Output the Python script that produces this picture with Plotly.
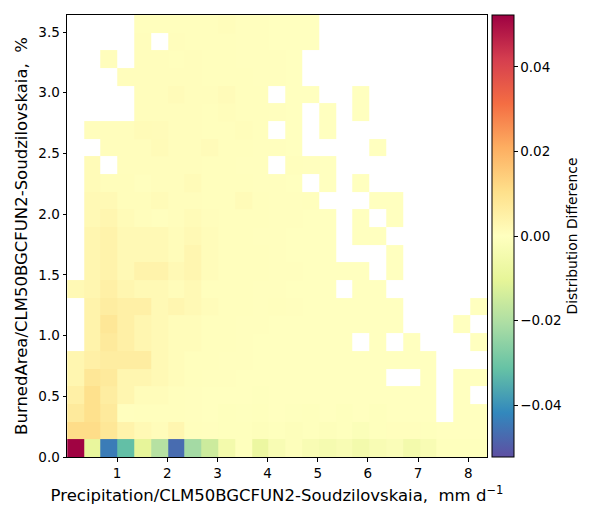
import plotly.graph_objects as go

# Bin centres (precipitation, mm/d) and (burned area, %)
precip_centers = [0.17, 0.50, 0.84, 1.17, 1.51, 1.84, 2.18, 2.51, 2.85, 3.18, 3.52, 3.85,
                  4.19, 4.52, 4.86, 5.19, 5.53, 5.86, 6.20, 6.53, 6.87, 7.20, 7.54, 7.87, 8.21]
burned_centers = [0.073, 0.218, 0.364, 0.510, 0.655, 0.801, 0.946, 1.092, 1.238, 1.383,
                  1.529, 1.674, 1.820, 1.966, 2.111, 2.257, 2.402, 2.548, 2.694, 2.839,
                  2.985, 3.130, 3.276, 3.422, 3.567]

N = None
# Distribution difference, rows from bottom (burned area bin 0) to top
row00 = [0.052, -0.009, -0.044, -0.032, -0.010, -0.019, -0.047, -0.022, -0.015, -0.005, -0.0005, -0.008, -0.003, -0.001, -0.003, -0.004, -0.003, -0.005, -0.003, -0.002, -0.005, -0.003, -0.0005, -0.0005, -0.0005]
row01 = [0.011, 0.011, 0.008, 0.004, 0.002, 0.001, 0.003, 0.0005, 0.0003, -0.0005, -0.0005, -0.001, -0.0005, -0.001, -0.0005, -0.001, -0.0005, -0.0015, -0.0005, 0.0005, 0.0005, -0.0005, 0.0, 0.0, 0.0]
row02 = [0.007, 0.010, 0.007, 0.0003, 0.0005, 0.0005, 0.0005, 0.0003, 0.0, -0.0005, -0.0003, -0.0005, 0.0, -0.0003, -0.0005, 0.0, -0.0005, 0.0, -0.0005, 0.0, 0.0, 0.0, N, 0.0, 0.0]
row03 = [0.005, 0.010, 0.006, 0.003, 0.001, 0.001, 0.0005, 0.0003, 0.0, 0.0, 0.0, -0.0003, 0.0, 0.0, 0.0, 0.0, 0.0, 0.0, 0.0, 0.0, 0.0, 0.0, N, 0.0, N]
row04 = [0.003, 0.008, 0.007, 0.003, 0.003, 0.002, 0.001, 0.0005, 0.0003, 0.0003, 0.0, 0.0, 0.0, 0.0, 0.0, 0.0, 0.0, 0.0, 0.0, N, N, 0.0, N, 0.0, 0.0]
row05 = [0.003, 0.005, 0.006, 0.006, 0.006, 0.002, 0.001, 0.0005, 0.0005, 0.0003, 0.0003, 0.0, 0.0, 0.0, 0.0, 0.0, 0.0, 0.0, 0.0, 0.0, 0.0, 0.0, N, N, N]
row06 = [N, 0.004, 0.007, 0.005, 0.003, 0.002, 0.001, 0.001, 0.0005, 0.0005, 0.0003, 0.0, 0.0, 0.0, 0.0, 0.0, 0.0, N, 0.0, N, 0.0, N, N, N, 0.0]
row07 = [N, 0.004, 0.008, 0.005, 0.003, 0.002, 0.001, 0.001, 0.0005, 0.0005, 0.0003, 0.0003, 0.0, 0.0, 0.0, 0.0, 0.0, 0.0, 0.0, 0.0, N, N, N, 0.0, N]
row08 = [N, 0.004, 0.006, 0.005, 0.005, 0.002, 0.003, 0.002, 0.001, 0.0005, 0.0005, 0.0003, 0.0005, 0.0003, 0.0, 0.0, 0.0, 0.0, 0.0, 0.0, N, N, N, N, 0.0]
row09 = [0.002, 0.003, 0.005, 0.003, 0.002, 0.002, 0.001, 0.002, 0.0005, 0.0005, 0.0005, 0.0003, 0.0003, 0.0, 0.0, 0.0, N, 0.0, 0.0, N, N, N, N, N, N]
row10 = [N, 0.003, 0.004, 0.002, 0.004, 0.004, 0.002, 0.003, 0.001, 0.0005, 0.0005, 0.0005, 0.0003, 0.0003, 0.0, 0.0, 0.0, 0.0, N, 0.0, N, N, N, N, N]
row11 = [N, 0.003, 0.004, 0.002, 0.002, 0.002, 0.001, 0.003, 0.001, 0.0005, 0.0005, 0.0005, 0.0003, 0.0, 0.0, 0.0, N, N, N, 0.0, N, N, N, N, N]
row12 = [N, 0.003, 0.004, 0.002, 0.002, 0.002, 0.001, 0.002, 0.001, 0.0005, 0.0005, 0.0003, 0.0003, 0.0, 0.0, 0.0, N, 0.0, 0.0, N, N, N, N, N, N]
row13 = [N, 0.002, 0.003, 0.0015, 0.0007, 0.0003, 0.0007, 0.0015, 0.0007, 0.0004, 0.0004, 0.0004, 0.0002, 0.0002, 0.0, 0.0, N, 0.0, N, 0.0, N, N, N, N, N]
row14 = [N, 0.002, 0.002, 0.0008, 0.0008, 0.0015, 0.0007, 0.0007, 0.0004, 0.0004, 0.0015, 0.0004, 0.0002, 0.0002, 0.0004, N, N, N, 0.0, 0.0, N, N, N, N, N]
row15 = [N, 0.0015, 0.0008, 0.0008, 0.0003, 0.0007, 0.0007, 0.0015, 0.0004, 0.0004, 0.0004, 0.0002, 0.0002, 0.0, N, 0.0, N, 0.0, N, N, N, N, N, N, N]
row16 = [N, 0.0015, N, 0.0007, 0.0007, 0.0007, 0.0007, 0.0007, 0.0004, 0.0004, 0.0002, 0.0002, N, 0.0004, 0.0002, 0.0, N, N, N, N, N, N, N, N, N]
row17 = [N, N, 0.0007, 0.0007, 0.0007, 0.0015, 0.0007, 0.0007, 0.0012, 0.0004, 0.0004, 0.0002, 0.0002, 0.0, N, N, N, N, 0.0, N, N, N, N, N, N]
row18 = [N, 0.0007, 0.0007, 0.0007, 0.0015, 0.0012, 0.0007, 0.0007, 0.0004, 0.0004, 0.0008, 0.0004, N, 0.0, N, 0.0, N, N, N, N, N, N, N, N, N]
row19 = [N, N, N, N, 0.0007, 0.0007, 0.0007, 0.0007, 0.0004, 0.0008, 0.0004, 0.0004, 0.0002, 0.0, N, 0.0, N, 0.0, N, N, N, N, N, N, N]
row20 = [N, N, N, N, 0.0007, 0.0007, 0.0012, 0.0007, 0.0007, 0.0012, 0.0004, 0.0004, N, 0.0, 0.0, N, N, 0.0, N, N, N, N, N, N, N]
row21 = [N, N, N, 0.0007, 0.0007, 0.0007, 0.0007, 0.0007, 0.0004, 0.0004, 0.0004, 0.0002, 0.0002, 0.0, N, N, N, N, N, N, N, N, N, N, N]
row22 = [N, N, 0.0007, N, 0.0007, 0.0007, 0.0004, 0.0007, 0.0004, 0.0004, 0.0002, 0.0002, 0.0002, 0.0, N, N, N, N, N, N, N, N, N, N, N]
row23 = [N, N, N, N, 0.0007, N, 0.0007, 0.0004, 0.0004, 0.0004, 0.0002, 0.0002, 0.0, 0.0, 0.0, N, N, N, N, N, N, N, N, N, N]
row24 = [N, N, N, N, 0.0004, 0.0004, 0.0004, 0.0004, 0.0004, 0.0008, 0.0002, 0.0002, 0.0, 0.0, 0.0, N, N, N, N, N, N, N, N, N, N]

diff_rows = [row00, row01, row02, row03, row04, row05, row06, row07, row08, row09,
             row10, row11, row12, row13, row14, row15, row16, row17, row18, row19,
             row20, row21, row22, row23, row24]

x_ticks = [1, 2, 3, 4, 5, 6, 7, 8]
y_ticks = [0.0, 0.5, 1.0, 1.5, 2.0, 2.5, 3.0, 3.5]
cb_ticks = [-0.04, -0.02, 0.0, 0.02, 0.04]
cb_labels = ["\u22120.04", "\u22120.02", "0.00", "0.02", "0.04"]

FONT = "DejaVu Sans"
vmax = 0.0523

fig = go.Figure(go.Heatmap(
    x=precip_centers, y=burned_centers, z=diff_rows,
    colorscale="Spectral_r", zmin=-vmax, zmax=vmax,
    hoverongaps=False,
    colorbar=dict(
        thickness=22, thicknessmode="pixels", len=1, lenmode="fraction",
        x=1.012, xanchor="left", y=0.5, yanchor="middle", xpad=0, ypad=0,
        outlinecolor="black", outlinewidth=1,
        ticks="outside", ticklen=3.5, tickwidth=0.8, tickcolor="black",
        tickvals=cb_ticks, ticktext=cb_labels,
        tickfont=dict(family=FONT, size=13.5, color="black"),
        title=dict(text="Distribution Difference", side="right",
                   font=dict(family=FONT, size=13.9, color="black")),
    ),
))

# page body has an 8 px margin, so the figure is 8 px smaller and margins shifted
fig.update_layout(
    width=592, height=517,
    margin=dict(l=59, r=113, t=7, b=68),
    plot_bgcolor="white", paper_bgcolor="white",
    font=dict(family=FONT, size=13.5, color="black"),
    xaxis=dict(
        range=[0, 8.375], tickvals=x_ticks, ticks="outside", ticklen=3.5, tickwidth=0.8,
        tickcolor="black", showline=True, mirror=True, linecolor="black", linewidth=1,
        showgrid=False, zeroline=False, automargin=False,
        title=dict(text="Precipitation/CLM50BGCFUN2-Soudzilovskaia,  mm d<sup>\u22121</sup>",
                   font=dict(family=FONT, size=16.5), standoff=9),
        tickfont=dict(family=FONT, size=13.5),
    ),
    yaxis=dict(
        range=[0, 3.64], tickvals=y_ticks, tickformat=".1f", ticks="outside", ticklen=3.5,
        tickwidth=0.8, tickcolor="black", showline=True, mirror=True, linecolor="black",
        linewidth=1, showgrid=False, zeroline=False, automargin=False,
        title=dict(text="BurnedArea/CLM50BGCFUN2-Soudzilovskaia,  %",
                   font=dict(family=FONT, size=16.5), standoff=6),
        tickfont=dict(family=FONT, size=13.5),
    ),
)

fig.write_html("out.html")
